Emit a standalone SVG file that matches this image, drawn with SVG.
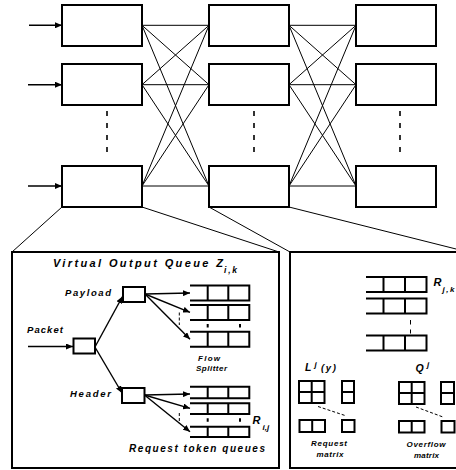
<svg xmlns="http://www.w3.org/2000/svg" width="456" height="470" viewBox="0 0 456 470">
<style>
.box{fill:#fff;stroke:#000;stroke-width:2}
.q{fill:none;stroke:#000;stroke-width:2}
.ln{fill:none;stroke:#000;stroke-width:1}
.arr{fill:none;stroke:#000;stroke-width:1.4}
.dash{fill:none;stroke:#000;stroke-width:1.6;stroke-dasharray:5 7}
.sdash{fill:none;stroke:#000;stroke-width:1;stroke-dasharray:3 2}
.t{font-family:"Liberation Sans",Arial,sans-serif;font-weight:bold;font-style:italic;fill:#000}
</style>
<defs>
<marker id="ah" markerUnits="userSpaceOnUse" markerWidth="7" markerHeight="6" refX="7" refY="3" orient="auto">
<path d="M0,0 L7,3 L0,6 z" fill="#000"/>
</marker>
</defs>
<rect width="456" height="470" fill="#fff"/>

<g id="connectors">
<path class="arr" d="M29,25.3 H62" marker-end="url(#ah)"/>
<path class="arr" d="M28,84.7 H62" marker-end="url(#ah)"/>
<path class="arr" d="M28,186 H62" marker-end="url(#ah)"/>
<path class="ln" d="M142,25.3 L209,25.3 M142,25.3 L209,84.7 M142,25.3 L209,186
M142,84.7 L209,25.3 M142,84.7 L209,84.7 M142,84.7 L209,186
M142,186 L209,25.3 M142,186 L209,84.7 M142,186 L209,186"/>
<path class="ln" d="M289,25.3 L356,25.3 M289,25.3 L356,84.7 M289,25.3 L356,186
M289,84.7 L356,25.3 M289,84.7 L356,84.7 M289,84.7 L356,186
M289,186 L356,25.3 M289,186 L356,84.7 M289,186 L356,186"/>
<path class="ln" d="M62,207 L12,252 M142,207 L279,252 M209,207 L290,252 M289,207 L468,252"/>
<path class="dash" d="M107,111 V158 M254,111 V158 M400,111 V158"/>
</g>

<g id="stage1">
<rect class="box" x="62" y="5" width="80" height="41"/>
<rect class="box" x="62" y="64" width="80" height="41"/>
<rect class="box" x="62" y="166" width="80" height="41"/>
</g>
<g id="stage2">
<rect class="box" x="209" y="5" width="80" height="41"/>
<rect class="box" x="209" y="64" width="80" height="41"/>
<rect class="box" x="209" y="166" width="80" height="41"/>
</g>
<g id="stage3">
<rect class="box" x="356" y="5" width="80" height="41"/>
<rect class="box" x="356" y="64" width="80" height="41"/>
<rect class="box" x="356" y="166" width="80" height="41"/>
</g>

<g id="voq-panel">
<rect class="box" x="12" y="252" width="267" height="216"/>
<text class="t" x="53" y="267" font-size="11" textLength="170" lengthAdjust="spacing">Virtual Output Queue Z</text>
<text class="t" x="224" y="272.5" font-size="8.5" textLength="13" lengthAdjust="spacing">i,k</text>

<text class="t" x="65" y="295.5" font-size="9.5" textLength="46" lengthAdjust="spacing">Payload</text>
<text class="t" x="27" y="332.5" font-size="9.5" textLength="36" lengthAdjust="spacing">Packet</text>
<text class="t" x="70" y="396.5" font-size="9.5" textLength="41" lengthAdjust="spacing">Header</text>

<rect class="box" x="73.5" y="338.5" width="21.5" height="15"/>
<rect class="box" x="123" y="287" width="22" height="15"/>
<rect class="box" x="122" y="388" width="22.5" height="15"/>

<path class="arr" d="M28,346.5 H73" marker-end="url(#ah)"/>
<path class="arr" d="M95.5,346 L122.5,296.5" marker-end="url(#ah)"/>
<path class="arr" d="M95.5,348 L122,393" marker-end="url(#ah)"/>

<path class="arr" d="M145,294 L190,293" marker-end="url(#ah)"/>
<path class="arr" d="M145,294 L190,312.3" marker-end="url(#ah)"/>
<path class="arr" d="M145,294 L190,339.3" marker-end="url(#ah)"/>
<path class="sdash" d="M179.3,312.5 V325"/>

<path class="q" d="M190,285.5 H249.3 V300.5 H190 M207.7,285.5 V300.5 M228.3,285.5 V300.5"/>
<path class="q" d="M190,305 H249.3 V320 H190 M207.7,305 V320 M228.3,305 V320"/>
<path class="q" d="M190,331.7 H249.3 V346.7 H190 M207.7,331.7 V346.7 M228.3,331.7 V346.7"/>
<path class="q" d="M207.7,324 V327.5 M240,324 V327.5"/>

<text class="t" x="209" y="361" font-size="8" text-anchor="middle" textLength="22" lengthAdjust="spacing">Flow</text>
<text class="t" x="211.5" y="371" font-size="8" text-anchor="middle" textLength="31" lengthAdjust="spacing">Splitter</text>

<path class="arr" d="M144.5,395 L190,394" marker-end="url(#ah)"/>
<path class="arr" d="M144.5,395 L190,408.3" marker-end="url(#ah)"/>
<path class="arr" d="M144.5,395 L190,431.7" marker-end="url(#ah)"/>
<path class="sdash" d="M179.3,413 V423.5"/>

<path class="q" d="M190,386.7 H249.3 V398.3 H190 M207.7,386.7 V398.3 M228.3,386.7 V398.3"/>
<path class="q" d="M190,403.3 H249.3 V414 H190 M207.7,403.3 V414 M228.3,403.3 V414"/>
<path class="q" d="M190,426.7 H249.3 V437 H190 M207.7,426.7 V437 M228.3,426.7 V437"/>
<path class="q" d="M207.7,418.3 V421.8 M240,418.3 V421.8"/>

<text class="t" x="252.5" y="424" font-size="11">R</text>
<text class="t" x="262.5" y="429.5" font-size="8">i,j</text>

<text class="t" x="129" y="451.7" font-size="10" textLength="136" lengthAdjust="spacing">Request token queues</text>
</g>

<g id="scheduler-panel">
<rect class="box" x="290" y="252" width="180" height="216"/>
<path class="q" d="M366,277 H426.5 V292 H366 M383.5,277 V292 M405,277 V292"/>
<path class="q" d="M366,298.5 H426.5 V313.5 H366 M383.5,298.5 V313.5 M405,298.5 V313.5"/>
<path class="q" d="M366,335.5 H426.5 V350.5 H366 M383.5,335.5 V350.5 M405,335.5 V350.5"/>
<path class="ln" d="M410.5,320 V324.5 M410.5,329.5 V333.5" stroke-width="1.2"/>
<text class="t" x="433.5" y="285.5" font-size="11">R</text>
<text class="t" x="442.5" y="291.5" font-size="8" textLength="12" lengthAdjust="spacing">j,k</text>

<g id="request-matrix">
<text class="t" x="305" y="371" font-size="10.5">L</text>
<text class="t" x="314.5" y="366.5" font-size="8">j</text>
<text class="t" x="321" y="371" font-size="9.5" textLength="15" lengthAdjust="spacing">(y)</text>
<path class="q" d="M299,381 H324.5 V403 H299 Z M311.7,381 V403 M299,392 H324.5"/>
<path class="q" d="M342,381 H354 V403 H342 Z M342,392 H354"/>
<path class="sdash" d="M318,406.5 L345,415.5" stroke-dasharray="5 4"/>
<path class="q" d="M299.5,420 H325 V432 H299.5 Z M312.2,420 V432"/>
<rect class="q" x="342" y="420" width="12.5" height="12"/>
<text class="t" x="329" y="445.5" font-size="8" text-anchor="middle" textLength="36" lengthAdjust="spacing">Request</text>
<text class="t" x="330" y="456.5" font-size="8" text-anchor="middle" textLength="27" lengthAdjust="spacing">matrix</text>
</g>

<g id="overflow-matrix">
<text class="t" x="415.5" y="371.5" font-size="10.5">Q</text>
<text class="t" x="427" y="366.5" font-size="8">j</text>
<path class="q" d="M399,382 H424.5 V404 H399 Z M411.7,382 V404 M399,393 H424.5"/>
<path class="q" d="M441,382 H454 V404 H441 Z M441,393 H454"/>
<path class="sdash" d="M416,407 L443,417" stroke-dasharray="5 4"/>
<path class="q" d="M399,421 H424.5 V432.5 H399 Z M411.7,421 V432.5"/>
<rect class="q" x="441.5" y="421" width="13" height="11.5"/>
<text class="t" x="426" y="446.5" font-size="8" text-anchor="middle" textLength="39" lengthAdjust="spacing">Overflow</text>
<text class="t" x="426.5" y="458" font-size="8" text-anchor="middle" textLength="25" lengthAdjust="spacing">matrix</text>
</g>
</g>
</svg>
